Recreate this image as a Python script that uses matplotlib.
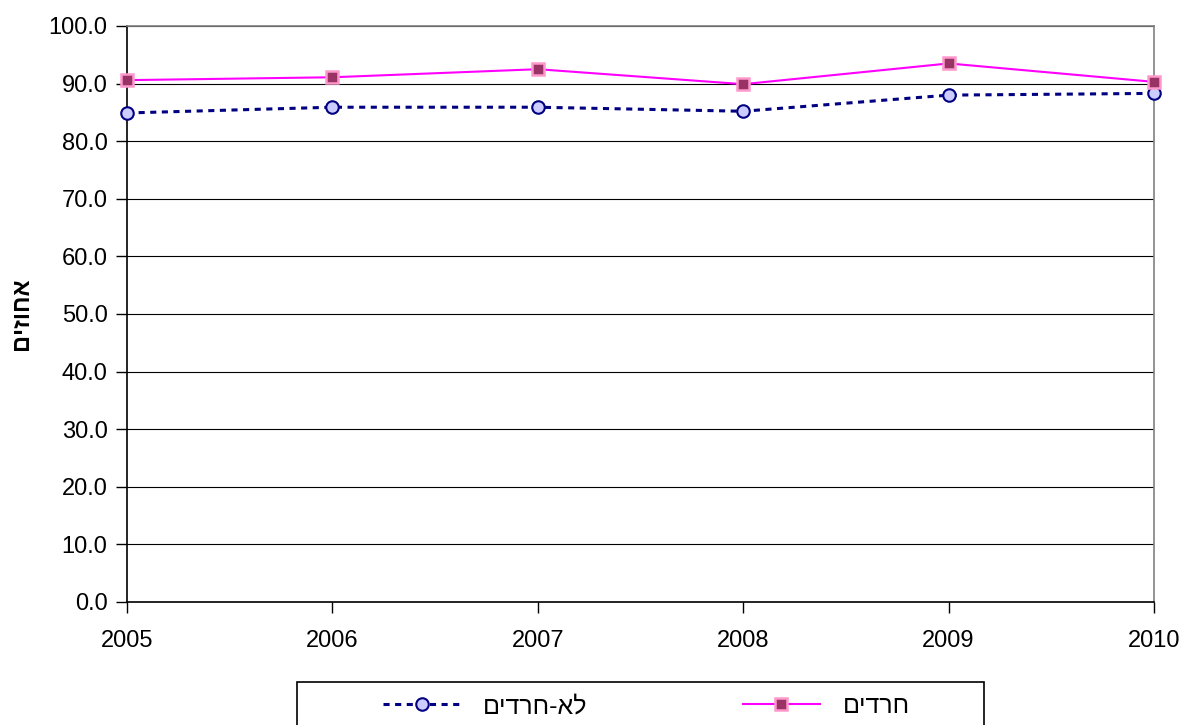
import matplotlib
matplotlib.use("Agg")
import matplotlib.pyplot as plt
from matplotlib.patches import Rectangle
from matplotlib.ticker import FormatStrFormatter

plt.rcParams['font.family'] = ['Liberation Sans', 'DejaVu Sans']

years = [2005, 2006, 2007, 2008, 2009, 2010]
haredim = [90.6, 91.1, 92.5, 89.9, 93.5, 90.3]
lo_haredim = [84.9, 85.9, 85.9, 85.2, 88.0, 88.3]

label_haredim = "חרדים"
label_lo_haredim = "לא-חרדים"
ylabel = "אחוזים"


def visual(s):
    # matplotlib has no bidi support: give Hebrew in visual order
    return s[::-1]


fig = plt.figure(figsize=(11.84, 7.25), dpi=100)
ax = fig.add_axes([127 / 1184, 1 - 602 / 725, (1154 - 127) / 1184, (602 - 26) / 725])

ax.plot(years, lo_haredim, color="#000080", lw=2.2, linestyle=(0, (2, 1.8)),
        marker="o", markersize=9, markerfacecolor="#CCCCFF",
        markeredgecolor="#000080", markeredgewidth=1.5,
        label=visual(label_lo_haredim), zorder=3, clip_on=False)
ax.plot(years, haredim, color="#FF00FF", lw=1.5,
        marker="s", markersize=8.5, markerfacecolor="#993366",
        markeredgecolor="#FF99CC", markeredgewidth=1.8,
        label=visual(label_haredim), zorder=4, clip_on=False)

ax.set_xlim(2005, 2010)
ax.set_ylim(0, 100)
ax.set_xticks(years)
ax.set_yticks(range(0, 101, 10))
ax.yaxis.set_major_formatter(FormatStrFormatter("%.1f"))
ax.tick_params(axis="both", labelsize=17, length=8, width=1, color="black", pad=6)
ax.tick_params(axis="x", pad=12)
ax.yaxis.grid(True, color="black", lw=0.8)
ax.set_axisbelow(True)

for side in ["top", "right"]:
    ax.spines[side].set_color("#808080")
    ax.spines[side].set_linewidth(1.2)
for side in ["left", "bottom"]:
    ax.spines[side].set_color("black")
    ax.spines[side].set_linewidth(1.2)

fig.text(21 / 1184, 1 - 314 / 725, visual(ylabel), rotation=90, fontsize=17,
         fontweight="bold", ha="center", va="center")

# legend box (runs past the bottom edge, as in the original)
fig.patches.append(Rectangle((297 / 1184, -0.05), (984 - 297) / 1184, 0.05 + (725 - 682) / 725,
                             transform=fig.transFigure, fill=False, ec="black", lw=1.2))
fig.legend(loc="center left", bbox_to_anchor=(383 / 1184, 1 - 706 / 725), ncol=2,
           frameon=False, fontsize=18, handlelength=3.1, handletextpad=0.9,
           columnspacing=6.2, borderpad=0, borderaxespad=0)

fig.savefig("out.png", dpi=100)
